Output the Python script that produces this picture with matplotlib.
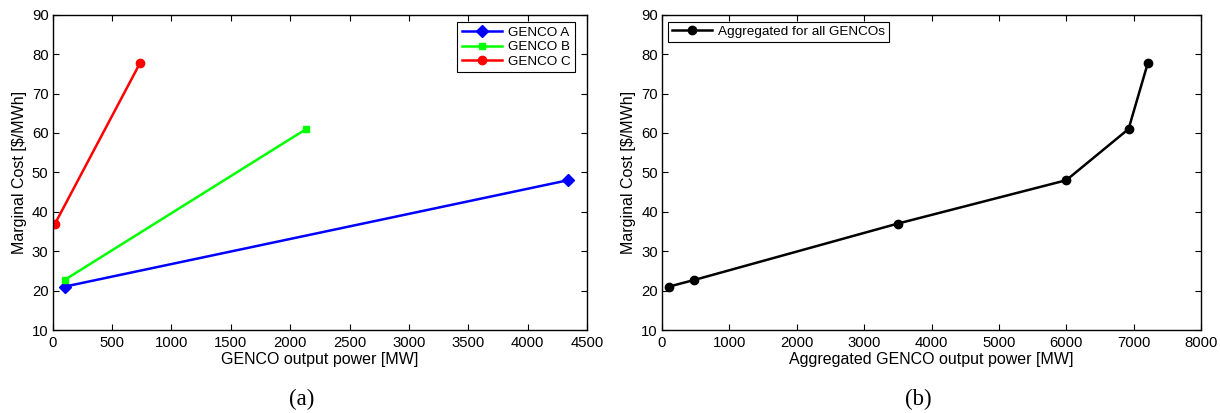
import matplotlib
matplotlib.use('Agg')
import matplotlib.pyplot as plt

plt.rcParams['font.family'] = ['Liberation Sans', 'DejaVu Sans']
plt.rcParams['font.size'] = 11

# GENCO marginal cost curves (panel a)
genco_a_mw = [100, 4340]
genco_a_cost = [21, 48]
genco_b_mw = [100, 2135]
genco_b_cost = [22.7, 61]
genco_c_mw = [20, 735]
genco_c_cost = [37, 77.7]

# aggregated curve (panel b)
agg_mw = [100, 480, 3500, 6000, 6925, 7210]
agg_cost = [21, 22.7, 37, 48, 61, 77.7]

W, H = 1220, 413
fig = plt.figure(figsize=(W / 100, H / 100), dpi=100)

def box(x0, y0, x1, y1):
    return [x0 / W, 1 - y1 / H, (x1 - x0) / W, (y1 - y0) / H]

A1 = (52.7, 14.7, 587, 330)
A2 = (662, 14.7, 1201, 330)
ax1 = fig.add_axes(box(*A1))
ax2 = fig.add_axes(box(*A2))

def anchor(a, px, py):
    # pixel position -> axes fraction
    return ((px - a[0]) / (a[2] - a[0]), (a[3] - py) / (a[3] - a[1]))

tick_fs = 10.7
lab_fs = 11.5
leg_fs = 9.7
for ax in (ax1, ax2):
    ax.tick_params(direction='in', top=True, right=True, length=4, width=0.8,
                   labelsize=tick_fs)
    ax.tick_params(axis='x', pad=4)
    ax.tick_params(axis='y', pad=3)
    for s in ax.spines.values():
        s.set_linewidth(1.0)
    ax.set_ylim(10, 90)
    ax.set_yticks(range(10, 91, 10))
    ax.set_ylabel('Marginal Cost [$/MWh]', fontsize=lab_fs, labelpad=3.5)

ax1.plot(genco_a_mw, genco_a_cost, color='#0000ff', lw=1.8, marker='D', ms=6, label='GENCO A')
ax1.plot(genco_b_mw, genco_b_cost, color='#00ff00', lw=1.8, marker='s', ms=5, label='GENCO B')
ax1.plot(genco_c_mw, genco_c_cost, color='#ff0000', lw=1.8, marker='o', ms=6, label='GENCO C')
ax1.set_xlim(0, 4500)
ax1.set_xticks(range(0, 4501, 500))
ax1.set_xlabel('GENCO output power [MW]', fontsize=lab_fs, labelpad=2)
leg1 = ax1.legend(loc='upper right', bbox_to_anchor=anchor(A1, 575, 21.7),
                  fontsize=leg_fs, fancybox=False, edgecolor='black',
                  framealpha=1, handlelength=3.0, borderaxespad=0, borderpad=0.35,
                  labelspacing=0.15, handletextpad=0.4)
leg1.get_frame().set_linewidth(0.8)

ax2.plot(agg_mw, agg_cost, color='black', lw=1.8, marker='o', ms=6,
         label='Aggregated for all GENCOs')
ax2.set_xlim(0, 8000)
ax2.set_xticks(range(0, 8001, 1000))
ax2.set_xlabel('Aggregated GENCO output power [MW]', fontsize=lab_fs, labelpad=2)
leg2 = ax2.legend(loc='upper left', bbox_to_anchor=anchor(A2, 668, 21.7),
                  fontsize=leg_fs, fancybox=False, edgecolor='black',
                  framealpha=1, handlelength=3.0, borderaxespad=0, borderpad=0.3,
                  handletextpad=0.4)
leg2.get_frame().set_linewidth(0.8)

fig.text(301.7 / W, 1 - 399 / H, '(a)', family='Liberation Serif', fontsize=16.5,
         ha='center', va='center')
fig.text(918 / W, 1 - 399 / H, '(b)', family='Liberation Serif', fontsize=16.5,
         ha='center', va='center')

fig.savefig('out.png', dpi=100)
